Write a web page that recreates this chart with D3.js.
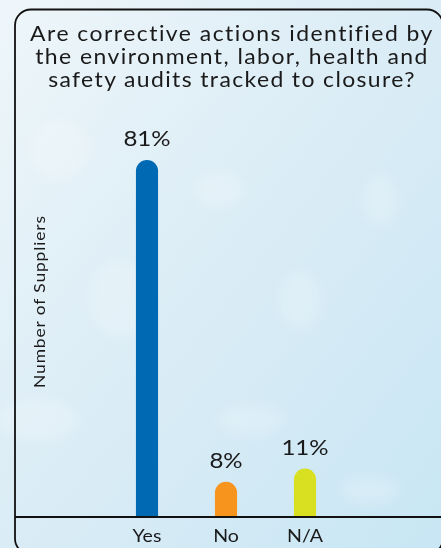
<!DOCTYPE html>
<html>
<head>
<meta charset="utf-8">
<script src="https://cdn.jsdelivr.net/npm/d3@7"></script>
<style>
  html, body { margin: 0; padding: 0; background: #dbeef7; }
  svg { display: block; }
  text { font-family: Lato, "Open Sans", sans-serif; fill: #1a1a1a; }
</style>
</head>
<body>
<div id="chart"></div>
<script>
// Survey answers and share of suppliers (%)
const categories = ["Yes", "No", "N/A"];
const values = [81, 8, 11];
const valueLabels = ["81%", "8%", "11%"];
const barColors = ["#0069b4", "#f7941d", "#d9e021"];
const titleLines = [
  "Are corrective actions identified by",
  "the environment, labor, health and",
  "safety audits tracked to closure?"
];
const yAxisTitle = "Number of Suppliers";

const W = 441, H = 548;
const SX = 1.12; // horizontal widening of the lettering
const svg = d3.select("#chart").append("svg")
  .attr("width", W).attr("height", H);

// Place a centred text at (cx, cy), widened by SX, spanning the given width
function placeText(sel, cx, cy, width, rotate) {
  sel.each(function () {
    const t = d3.select(this).attr("x", 0).attr("y", 0).attr("text-anchor", "middle");
    const n = this.textContent.length;
    const len = this.getComputedTextLength();
    t.attr("letter-spacing", Math.max(0, (width / SX - len) / n).toFixed(2));
    t.attr("transform", `translate(${cx},${cy})${rotate ? " rotate(-90)" : ""} scale(${SX},1)`);
  });
}

// Soft watery backdrop
const defs = svg.append("defs");
const bg = defs.append("linearGradient").attr("id", "bg")
  .attr("x1", "0%").attr("y1", "0%").attr("x2", "100%").attr("y2", "100%");
bg.append("stop").attr("offset", "0%").attr("stop-color", "#eef6fa");
bg.append("stop").attr("offset", "45%").attr("stop-color", "#dcedf6");
bg.append("stop").attr("offset", "100%").attr("stop-color", "#c8e6f4");
const blur = defs.append("filter").attr("id", "soft")
  .attr("x", "-50%").attr("y", "-50%").attr("width", "200%").attr("height", "200%");
blur.append("feGaussianBlur").attr("stdDeviation", 6);

svg.append("rect").attr("width", W).attr("height", H).attr("fill", "url(#bg)");

// faint pale patches in the backdrop
const patches = [
  [40, 420, 40, 22], [120, 300, 30, 40], [220, 190, 26, 18],
  [300, 300, 22, 30], [380, 200, 18, 26], [370, 490, 30, 14],
  [60, 150, 30, 30], [250, 420, 34, 16]
];
svg.append("g").attr("filter", "url(#soft)")
  .selectAll("ellipse").data(patches).join("ellipse")
  .attr("cx", d => d[0]).attr("cy", d => d[1])
  .attr("rx", d => d[2]).attr("ry", d => d[3])
  .attr("fill", "#ffffff").attr("opacity", 0.2);

// Rounded frame around the chart
svg.append("rect")
  .attr("x", 15).attr("y", 9.5).attr("width", 428).attr("height", 545)
  .attr("rx", 16).attr("ry", 16)
  .attr("fill", "none").attr("stroke", "#111").attr("stroke-width", 1.8);

// Title, one text per line
const titleWidths = [405, 394, 368];
svg.append("g").selectAll("text").data(titleLines).join("text")
  .attr("font-size", 20.5)
  .text(d => d)
  .each(function (d, i) { placeText(d3.select(this), 232, 40.5 + i * 23, titleWidths[i]); });

// Scales
const baseY = 517;
const x = d3.scaleBand().domain(categories).range([107.5, 344.5])
  .paddingInner(0.72).paddingOuter(0.36);
const y = d3.scaleLinear().domain([0, 81]).range([baseY, 160]);

// Bars with rounded tops
const bw = x.bandwidth();
const r = bw / 2;
function barPath(cat, v) {
  const x0 = x(cat), x1 = x0 + bw, yt = y(v);
  return `M${x0},${baseY} L${x0},${yt + r} A${r},${r} 0 0 1 ${x1},${yt + r} L${x1},${baseY} Z`;
}
svg.append("g").selectAll("path").data(categories).join("path")
  .attr("d", (c, i) => barPath(c, values[i]))
  .attr("fill", (c, i) => barColors[i]);

// Value labels
const valueWidths = [41, 29, 36];
svg.append("g").selectAll("text").data(categories).join("text")
  .attr("font-size", 21.5)
  .text((c, i) => valueLabels[i])
  .each(function (c, i) {
    placeText(d3.select(this), x(c) + bw / 2, y(values[i]) - 14, valueWidths[i]);
  });

// Category labels under the baseline
const catWidths = [29, 24, 34];
svg.append("g").selectAll("text").data(categories).join("text")
  .attr("font-size", 17.5)
  .text(c => c)
  .each(function (c, i) { placeText(d3.select(this), x(c) + bw / 2, 541.5, catWidths[i]); });
svg.append("line")
  .attr("x1", 15).attr("x2", W).attr("y1", baseY).attr("y2", baseY)
  .attr("stroke", "#111").attr("stroke-width", 2);

// Y-axis title
const yt = svg.append("text").attr("font-size", 15.5).text(yAxisTitle);
placeText(yt, 44.5, 301.5, 173, true);
</script>
</body>
</html>
